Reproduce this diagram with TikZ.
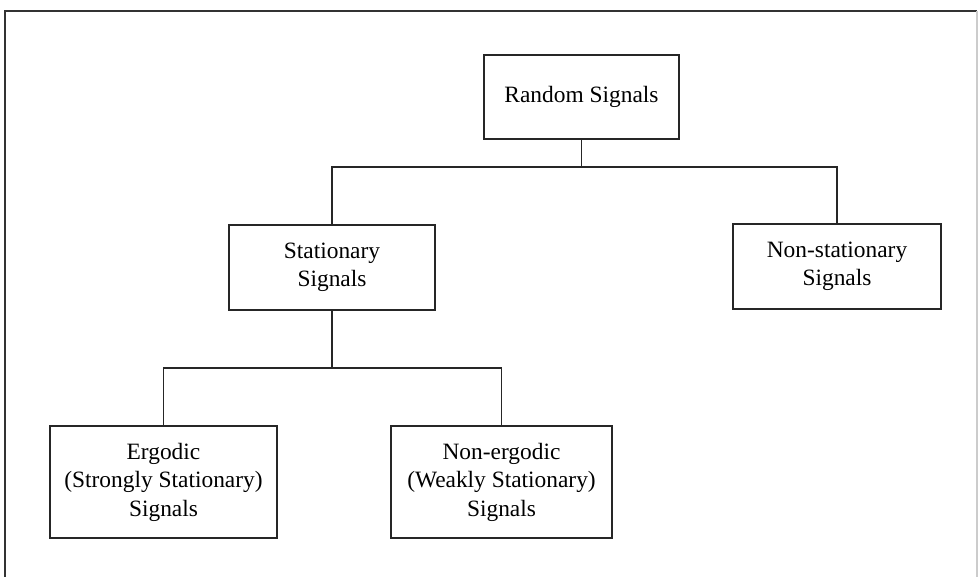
\documentclass[tikz,border=0pt]{standalone}
\usepackage{fontspec}
\setmainfont{Liberation Serif}
\usetikzlibrary{positioning}
\tikzset{
    sigbox/.style={
        rectangle, draw=black!85, line width=1.5pt, align=center,
        font=\fontsize{23.4}{28.5}\selectfont, inner sep=2pt
    },
    link/.style={
        draw=black!85, line width=1.5pt
    },
    frameline/.style={
        draw=black!80, line width=1.6pt
    }
}
\begin{document}
\begin{tikzpicture}[x=1pt, y=-1pt]

    \useasboundingbox (0,0) rectangle (979,576);

    % ── Frame ──
    \draw[frameline] (5,600) |- (977,11);
    \draw[frameline, draw=black!20] (977,11) -- (977,600);

    % ── Nodes ──
    \node[sigbox, minimum width=195pt, minimum height=84pt]  (random)  at (581.5,97)   {Random Signals};
    \node[sigbox, minimum width=206pt, minimum height=85pt]  (stat)    at (332,267.5)  {Stationary\\Signals};
    \node[sigbox, minimum width=208pt, minimum height=85pt]  (nonstat) at (837,266.5)  {Non-stationary\\Signals};
    \node[sigbox, minimum width=227pt, minimum height=112pt] (ergo)    at (163.5,482)  {Ergodic\\(Strongly Stationary)\\Signals};
    \node[sigbox, minimum width=221pt, minimum height=112pt] (nonergo) at (501.5,482)  {Non-ergodic\\(Weakly Stationary)\\Signals};

    % ── Junctions ──
    \coordinate (j1) at (random.south |- 0,167);
    \coordinate (j2) at (stat.south |- 0,368);

    % ── Connectors ──
    \draw[link] (random.south) -- (j1);
    \draw[link] (stat.north) |- (j1) -| (nonstat.north);
    \draw[link] (stat.south) -- (j2);
    \draw[link] (ergo.north) |- (j2) -| (nonergo.north);

\end{tikzpicture}
\end{document}
